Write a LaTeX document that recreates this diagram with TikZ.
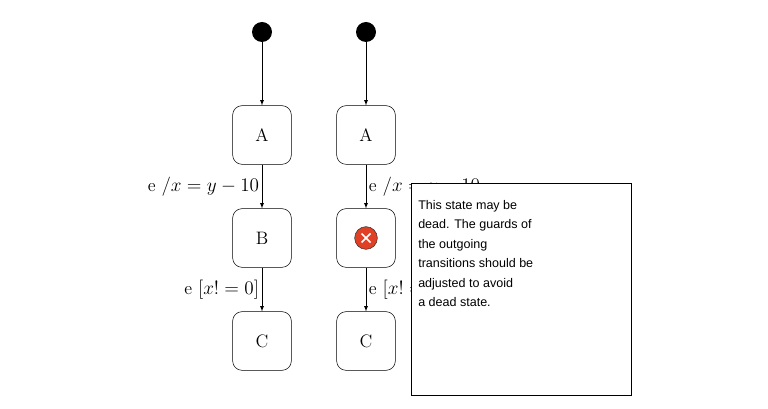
\documentclass[tikz,border=0pt]{standalone}
\usepackage{fontspec}
\usetikzlibrary{calc}
\newfontfamily\notefont{Liberation Sans}
\definecolor{errred}{RGB}{226,64,36}
\begin{document}
\begin{tikzpicture}[x=0.75pt,y=-0.75pt,
  st/.style={draw,rounded corners=7pt,minimum width=44pt,minimum height=44pt,font=\fontsize{13.5}{15}\selectfont,fill=white},
  ini/.style={circle,fill=black,minimum size=15pt,inner sep=0pt},
  tr/.style={-latex,thin},
  lbl/.style={font=\fontsize{13.5}{15}\selectfont,inner sep=2pt}]
\useasboundingbox (0,0) rectangle (768,409);
\node[ini] (i1) at (262,32) {};
\node[ini] (i2) at (366,32) {};
\node[st] (a1) at (262,135) {A};
\node[st] (b1) at (262,238) {B};
\node[st] (c1) at (262,341) {C};
\node[st] (a2) at (366,135) {A};
\node[st] (b2) at (366,238) {};
\node[st] (c2) at (366,341) {C};
\node[circle,draw=black!80,fill=errred,minimum size=17pt,inner sep=0pt] (err) at (366,238) {};
\draw[white,line width=1.2pt] ($(err)+(-4.5,-4.5)$) -- ($(err)+(4.5,4.5)$) ($(err)+(4.5,-4.5)$) -- ($(err)+(-4.5,4.5)$);
\draw[tr] (i1) -- (a1);
\draw[tr] (a1) -- node[lbl,left]{e $/x = y - 10$} (b1);
\draw[tr] (b1) -- node[lbl,left]{e $[x!=0]$} (c1);
\draw[tr] (i2) -- (a2);
\draw[tr] (a2) -- node[lbl,right]{e $/x = y - 10$} (b2);
\draw[tr] (b2) -- node[lbl,right]{e $[x!=0]$} (c2);
\node[draw,fill=white,minimum width=165pt,minimum height=159pt,anchor=north west] (note) at (411,183) {};
\node[anchor=north west,align=left,inner sep=0pt,font=\notefont\fontsize{9.4}{14.6}\selectfont] (nt) at (418,200) {This state may be\\dead. The guards of\\the outgoing\\transitions should be\\adjusted to avoid\\a dead state.};
\end{tikzpicture}
\end{document}
